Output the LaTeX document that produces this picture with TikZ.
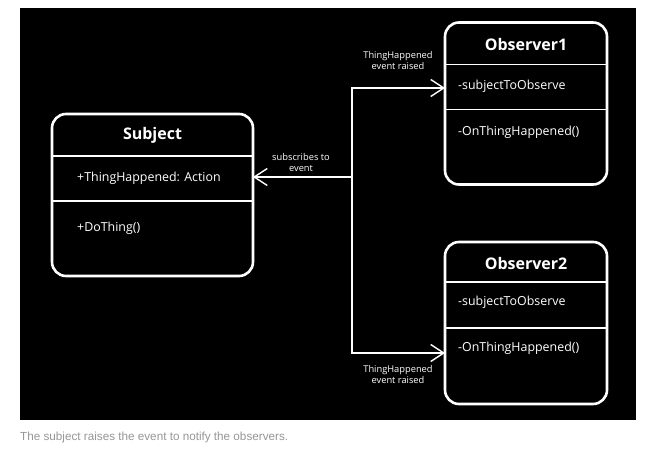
\documentclass[tikz,border=0pt]{standalone}
\usepackage{fontspec}
\setmainfont{Open Sans}
\newfontfamily\captionfont{Liberation Sans}
\usetikzlibrary{arrows.meta,positioning}

\begin{document}
\begin{tikzpicture}[x=1pt, y=-1pt, >={Straight Barb[length=13pt,width=17pt]},
  classbox/.style={draw=white, line width=2.6pt, rounded corners=14pt, outer sep=0pt,
    minimum width=#1, minimum height=162pt, inner sep=0pt},
  divider/.style={draw=white, line width=1.4pt},
  titletext/.style={text=white, font=\fontsize{16}{18}\selectfont\bfseries, inner sep=0pt},
  membertext/.style={text=white, font=\fontsize{12.4}{14}\selectfont, anchor=west, inner sep=0pt},
  connector/.style={draw=white, line width=1.4pt},
  edgelabel/.style={text=white, font=\fontsize{9.3}{11}\selectfont, align=center, inner sep=0pt}]
  % page and dark panel
  \fill[white] (0,0) rectangle (655,457);
  \fill[black] (20,8) rectangle (636,420);

  % subject class
  \node[classbox=201pt] (subject) at (152.5,195) {};
  \draw[divider] ([yshift=-42pt]subject.north west) -- ([yshift=-42pt]subject.north east);
  \draw[divider] ([yshift=-87pt]subject.north west) -- ([yshift=-87pt]subject.north east);
  \node[titletext] (subjecttitle) at ([yshift=-21pt]subject.north) {Subject};
  \node[membertext] (subjectattr) at ([xshift=25pt,yshift=-64pt]subject.north west) {+ThingHappened: Action};
  \node[membertext] (subjectmethod) at ([xshift=25pt,yshift=-114pt]subject.north west) {+DoThing()};

  % observer classes
  \node[classbox=162pt] (obsone) at (526,103.5) {};
  \draw[divider] ([yshift=-42pt]obsone.north west) -- ([yshift=-42pt]obsone.north east);
  \draw[divider] ([yshift=-87pt]obsone.north west) -- ([yshift=-87pt]obsone.north east);
  \node[titletext] (obsonetitle) at ([yshift=-22pt]obsone.north) {Observer1};
  \node[membertext] (obsoneattr) at ([xshift=13pt,yshift=-64pt]obsone.north west) {-subjectToObserve};
  \node[membertext] (obsonemethod) at ([xshift=13pt,yshift=-110pt]obsone.north west) {-OnThingHappened()};

  \node[classbox=162pt] (obstwo) at (526,323) {};
  \draw[divider] ([yshift=-40pt]obstwo.north west) -- ([yshift=-40pt]obstwo.north east);
  \draw[divider] ([yshift=-86pt]obstwo.north west) -- ([yshift=-86pt]obstwo.north east);
  \node[titletext] (obstwotitle) at ([yshift=-21pt]obstwo.north) {Observer2};
  \node[membertext] (obstwoattr) at ([xshift=13pt,yshift=-60pt]obstwo.north west) {-subjectToObserve};
  \node[membertext] (obstwomethod) at ([xshift=13pt,yshift=-106pt]obstwo.north west) {-OnThingHappened()};

  % event wiring
  \coordinate (fork) at (352,177);
  \coordinate (toone) at (obsone.west |- 0,88);
  \coordinate (totwo) at (obstwo.west |- 0,353);
  \draw[connector,->] (fork) -- (fork -| subject.east);
  \draw[connector,->] (fork) |- (toone);
  \draw[connector,->] (fork) |- (totwo);
  \node[edgelabel] (subscribelabel) at (301,163) {subscribes to\\event};
  \node[edgelabel] (raisedone) at (398,61) {ThingHappened\\event raised};
  \node[edgelabel] (raisedtwo) at (398,375) {ThingHappened\\event raised};

  % caption
  \node[anchor=west, inner sep=0pt, text={rgb,255:red,150;green,150;blue,150},
    font=\captionfont\fontsize{11.7}{13}\selectfont] (caption) at (20,437)
    {The subject raises the event to notify the observers.};
\end{tikzpicture}
\end{document}
